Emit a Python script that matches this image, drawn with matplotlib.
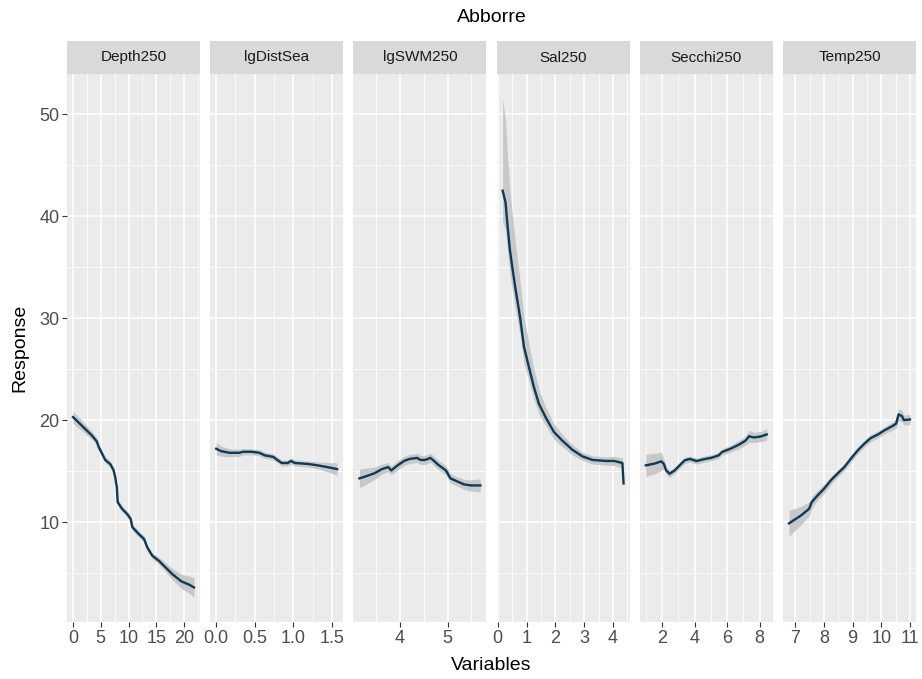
import matplotlib
matplotlib.use("Agg")
import matplotlib.pyplot as plt
from matplotlib.ticker import MultipleLocator
import numpy as np

plt.rcParams["font.family"] = ["Liberation Sans", "DejaVu Sans"]

# Partial response curves per predictor (x, fitted response, ribbon half-width)
depth_x = [0.0, 3.4, 4.3, 4.6, 5.8, 6.7, 7.3, 7.6, 7.9, 8.05, 8.85, 9.75, 10.4, 10.7,
           11.9, 12.8, 13.4, 14.3, 15.5, 16.7, 17.9, 19.5, 21.0, 21.8]
depth_y = [20.3, 18.5, 17.9, 17.4, 16.1, 15.7, 15.1, 14.4, 13.4, 11.95, 11.3, 10.8, 10.3, 9.5,
           8.8, 8.35, 7.5, 6.7, 6.2, 5.55, 4.9, 4.2, 3.85, 3.6]
depth_se = [0.6, 0.4, 0.35, 0.3, 0.3, 0.3, 0.3, 0.3, 0.3, 0.3, 0.3, 0.3, 0.3, 0.3,
            0.3, 0.3, 0.3, 0.3, 0.35, 0.45, 0.55, 0.7, 0.85, 0.95]

dist_x = [0.0, 0.06, 0.17, 0.3, 0.35, 0.46, 0.56, 0.63, 0.74, 0.8, 0.85, 0.93, 0.97,
          1.02, 1.2, 1.33, 1.44, 1.57]
dist_y = [17.2, 16.97, 16.8, 16.8, 16.9, 16.9, 16.8, 16.55, 16.4, 16.06, 15.8, 15.8, 16.0,
          15.8, 15.7, 15.55, 15.4, 15.2]
dist_se = [0.6, 0.5, 0.4, 0.35, 0.3, 0.3, 0.3, 0.3, 0.3, 0.3, 0.3, 0.3, 0.3,
           0.3, 0.3, 0.35, 0.45, 0.6]

swm_x = [3.15, 3.29, 3.47, 3.61, 3.75, 3.82, 3.96, 4.1, 4.21, 4.36, 4.43, 4.53, 4.64,
         4.71, 4.81, 4.96, 5.0, 5.06, 5.2, 5.35, 5.49, 5.69]
swm_y = [14.29, 14.5, 14.8, 15.17, 15.4, 15.07, 15.6, 16.03, 16.2, 16.3, 16.1, 16.1, 16.3,
         16.03, 15.6, 15.1, 14.8, 14.3, 14.0, 13.7, 13.6, 13.6]
swm_se = [0.9, 0.8, 0.6, 0.5, 0.45, 0.45, 0.45, 0.45, 0.45, 0.45, 0.45, 0.45, 0.45,
          0.45, 0.45, 0.45, 0.45, 0.45, 0.45, 0.5, 0.55, 0.65]

sal_x = [0.17, 0.27, 0.33, 0.42, 0.5, 0.62, 0.77, 0.91, 1.08, 1.25, 1.43, 1.66, 1.95,
         2.24, 2.59, 2.94, 3.29, 3.75, 4.04, 4.33, 4.37]
sal_y = [42.5, 41.35, 39.4, 36.75, 35.1, 32.8, 30.2, 27.2, 25.25, 23.3, 21.6, 20.3, 18.85,
         18.0, 17.1, 16.45, 16.1, 16.0, 16.0, 15.8, 13.8]
sal_se = [9.0, 8.0, 7.0, 6.0, 5.2, 4.4, 3.6, 2.9, 2.3, 1.8, 1.4, 1.0, 0.8,
          0.6, 0.5, 0.4, 0.4, 0.4, 0.45, 0.5, 0.5]
sal_se_low = [3.0, 2.8, 2.6, 2.4, 2.2, 2.0, 1.8, 1.6, 1.4, 1.2, 1.0, 0.8, 0.7,
              0.6, 0.5, 0.4, 0.4, 0.4, 0.45, 0.5, 0.5]

secchi_x = [1.0, 1.52, 1.94, 2.1, 2.25, 2.46, 2.77, 3.08, 3.39, 3.71, 4.12, 4.54, 5.06,
            5.48, 5.69, 6.21, 6.73, 7.14, 7.35, 7.66, 8.08, 8.44]
secchi_y = [15.57, 15.73, 15.96, 15.73, 15.07, 14.74, 15.07, 15.57, 16.06, 16.2, 15.99, 16.16, 16.32,
            16.55, 16.88, 17.2, 17.6, 18.0, 18.42, 18.3, 18.4, 18.6]
secchi_se = [1.1, 1.0, 0.9, 0.5, 0.4, 0.35, 0.3, 0.3, 0.3, 0.3, 0.3, 0.3, 0.3,
             0.3, 0.3, 0.35, 0.4, 0.45, 0.6, 0.5, 0.5, 0.55]

temp_x = [6.78, 6.95, 7.19, 7.48, 7.57, 7.77, 8.0, 8.24, 8.47, 8.71, 8.94, 9.18, 9.41,
          9.64, 9.88, 10.11, 10.4, 10.52, 10.6, 10.72, 10.79, 11.0]
temp_y = [9.88, 10.2, 10.64, 11.3, 11.95, 12.6, 13.27, 14.1, 14.75, 15.4, 16.23, 17.04, 17.7,
          18.26, 18.59, 19.0, 19.44, 19.67, 20.56, 20.4, 20.0, 20.07]
temp_se = [1.3, 1.1, 0.9, 0.7, 0.6, 0.5, 0.45, 0.4, 0.35, 0.35, 0.35, 0.35, 0.35,
           0.35, 0.35, 0.35, 0.4, 0.45, 0.6, 0.55, 0.5, 0.5]

panel_names = ["Depth250", "lgDistSea", "lgSWM250", "Sal250", "Secchi250", "Temp250"]
panel_x = [depth_x, dist_x, swm_x, sal_x, secchi_x, temp_x]
panel_y = [depth_y, dist_y, swm_y, sal_y, secchi_y, temp_y]
panel_hi = [depth_se, dist_se, swm_se, sal_se, secchi_se, temp_se]
panel_lo = [depth_se, dist_se, swm_se, sal_se_low, secchi_se, temp_se]
x_major = [5, 0.5, 1, 1, 2, 1]

LINE = "#0D3A58"
RIBBON = "#C8C8C8"
BG = "#EBEBEB"
STRIP = "#D9D9D9"

W, H = 922, 679
fig = plt.figure(figsize=(W / 100, H / 100), dpi=100)

def px_box(left, top, width, height):
    return [left / W, 1 - (top + height) / H, width / W, height / H]

# shared y range with ggplot-style 5% expansion
lows = [np.min(np.array(y) - np.array(s)) for y, s in zip(panel_y, panel_lo)]
highs = [np.max(np.array(y) + np.array(s)) for y, s in zip(panel_y, panel_hi)]
ymin, ymax = min(lows), max(highs)
ypad = 0.05 * (ymax - ymin)

panel_w, gap = 133, 10.2
left0, top0, bottom = 67, 74, 622
strip_top = 41

for i, name in enumerate(panel_names):
    left = left0 + i * (panel_w + gap)
    ax = fig.add_axes(px_box(left, top0, panel_w, bottom - top0))
    ax.set_facecolor(BG)
    x = np.array(panel_x[i])
    y = np.array(panel_y[i])
    ax.fill_between(x, y - np.array(panel_lo[i]), y + np.array(panel_hi[i]),
                    color=RIBBON, lw=0, zorder=2)
    ax.plot(x, y, color=LINE, lw=1.7, zorder=3)

    xpad = 0.05 * (x.max() - x.min())
    ax.set_xlim(x.min() - xpad, x.max() + xpad)
    ax.set_ylim(ymin - ypad, ymax + ypad)

    ax.xaxis.set_major_locator(MultipleLocator(x_major[i]))
    ax.xaxis.set_minor_locator(MultipleLocator(x_major[i] / 2))
    ax.yaxis.set_major_locator(MultipleLocator(10))
    ax.yaxis.set_minor_locator(MultipleLocator(5))
    if i == 1:
        ax.xaxis.set_major_formatter(lambda v, p: f"{v:.1f}")
    else:
        ax.xaxis.set_major_formatter(lambda v, p: f"{v:g}")

    ax.grid(which="major", color="white", lw=1.1, zorder=1)
    ax.grid(which="minor", color="white", lw=0.55, zorder=1)
    ax.set_axisbelow(True)
    for sp in ax.spines.values():
        sp.set_visible(False)

    ax.tick_params(which="minor", length=0)
    ax.tick_params(which="major", length=3.5, width=0.8, color="#333333",
                   labelcolor="#4D4D4D", labelsize=13, pad=2)
    if i > 0:
        ax.tick_params(axis="y", which="both", length=0, labelleft=False)

    sax = fig.add_axes(px_box(left, strip_top, panel_w, top0 - strip_top))
    sax.set_facecolor(STRIP)
    sax.set_xticks([])
    sax.set_yticks([])
    for sp in sax.spines.values():
        sp.set_visible(False)
    sax.text(0.5, 0.5, name, ha="center", va="center", fontsize=11,
             color="#1A1A1A", transform=sax.transAxes)

mid_x = (left0 + 5 * (panel_w + gap) + panel_w + left0) / 2 / W
fig.text(mid_x, 1 - 18 / H, "Abborre", ha="center", va="center", fontsize=14)
fig.text(mid_x, 1 - 665 / H, "Variables", ha="center", va="center", fontsize=14)
fig.text(20 / W, 1 - (top0 + bottom) / 2 / H, "Response", ha="center", va="center",
         rotation=90, fontsize=14)

fig.savefig("out.png", dpi=100)
